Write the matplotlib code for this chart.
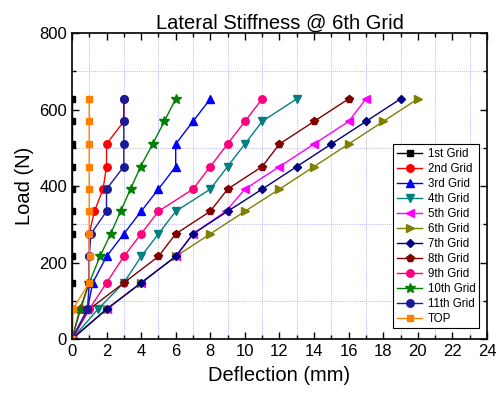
import numpy as np
import matplotlib.pyplot as plt
from matplotlib.ticker import MultipleLocator

plt.rcParams['font.family'] = ['Liberation Sans', 'DejaVu Sans']

# load steps (N)
load = [0, 78, 147, 216, 275, 334, 392, 451, 510, 569, 628]

# deflection (mm) for each grid level
grid1 = [0, 0, 0, 0, 0, 0, 0, 0, 0, 0, 0]
grid2 = [0, 0.5, 1.0, 1.0, 1.0, 1.3, 1.8, 2.0, 2.0, 3.0, 3.0]
grid3 = [0, 0.9, 1.2, 2.0, 3.0, 4.0, 5.0, 6.0, 6.0, 7.0, 8.0]
grid4 = [0, 1.5, 3.0, 4.0, 5.0, 6.0, 8.0, 9.0, 10.0, 11.0, 13.0]
grid5 = [0, 2.0, 4.0, 6.0, 7.0, 8.9, 10.0, 12.0, 14.0, 16.0, 17.0]
grid6 = [0, 2.0, 4.0, 6.0, 8.0, 10.0, 12.0, 14.0, 16.0, 18.0, 20.0]
grid7 = [0, 2.0, 4.0, 6.0, 7.0, 9.0, 11.0, 13.0, 15.0, 17.0, 19.0]
grid8 = [0, 1.0, 3.0, 5.0, 6.0, 8.0, 9.0, 11.0, 12.0, 14.0, 16.0]
grid9 = [0, 1.0, 2.0, 3.0, 4.0, 5.0, 7.0, 8.0, 9.0, 10.0, 11.0]
grid10 = [0, 0.46, 1.0, 1.62, 2.24, 2.81, 3.39, 3.97, 4.67, 5.34, 6.0]
grid11 = [0, 0.9, 1.0, 1.0, 1.1, 2.0, 2.0, 3.0, 3.0, 3.0, 3.0]
top = [0, 0.05, 1.0, 1.02, 1.0, 1.0, 1.0, 1.0, 1.0, 1.0, 1.0]

series = [
    ('1st Grid', grid1, 's', '#000000'),
    ('2nd Grid', grid2, 'o', '#FF0000'),
    ('3rd Grid', grid3, '^', '#0000FF'),
    ('4th Grid', grid4, 'v', '#008080'),
    ('5th Grid', grid5, '<', '#FF00FF'),
    ('6th Grid', grid6, '>', '#808000'),
    ('7th Grid', grid7, 'D', '#000080'),
    ('8th Grid', grid8, 'p', '#800000'),
    ('9th Grid', grid9, 'o', '#FF0080'),
    ('10th Grid', grid10, '*', '#008000'),
    ('11th Grid', grid11, 'o', '#1A1A9A'),
    ('TOP', top, 's', '#FF8000'),
]

fig = plt.figure(figsize=(4.96, 3.98), dpi=100)
ax = fig.add_axes([0.145, 0.148, 0.837, 0.769])

for name, xs, mk, col in series:
    ms = 5.4
    if mk == '*':
        ms = 7.2
    elif mk == 'D':
        ms = 4.5
    elif mk == 's':
        ms = 4.8
    ax.plot(xs, load, marker=mk, color=col, markersize=ms, linewidth=1,
            label=name)

ax.set_xlim(0, 24)
ax.set_ylim(0, 800)
ax.xaxis.set_major_locator(MultipleLocator(2))
ax.xaxis.set_minor_locator(MultipleLocator(1))
ax.yaxis.set_major_locator(MultipleLocator(200))
ax.yaxis.set_minor_locator(MultipleLocator(100))
ax.grid(which='minor', color='#A0A0FF', linestyle=(0, (1, 1.5)), linewidth=0.6)
ax.set_axisbelow(True)
ax.tick_params(which='both', direction='in', top=True, right=True,
               labelsize=12, width=1)
ax.tick_params(which='major', length=5)
ax.tick_params(which='minor', length=3)
for sp in ax.spines.values():
    sp.set_linewidth(1.2)

ax.set_title('Lateral Stiffness @ 6th Grid', fontsize=14.5, pad=2)
ax.set_xlabel('Deflection (mm)', fontsize=14.5, labelpad=5)
ax.set_ylabel('Load (N)', fontsize=14.5, labelpad=4)

leg = ax.legend(loc='lower right', bbox_to_anchor=(0.981, 0.036), fontsize=8.3,
                fancybox=False, edgecolor='black', framealpha=1,
                handlelength=2.2, labelspacing=0.26, borderpad=0.3,
                handletextpad=0.5, borderaxespad=0)
leg.get_frame().set_linewidth(0.8)

fig.savefig('out.png', dpi=100)
